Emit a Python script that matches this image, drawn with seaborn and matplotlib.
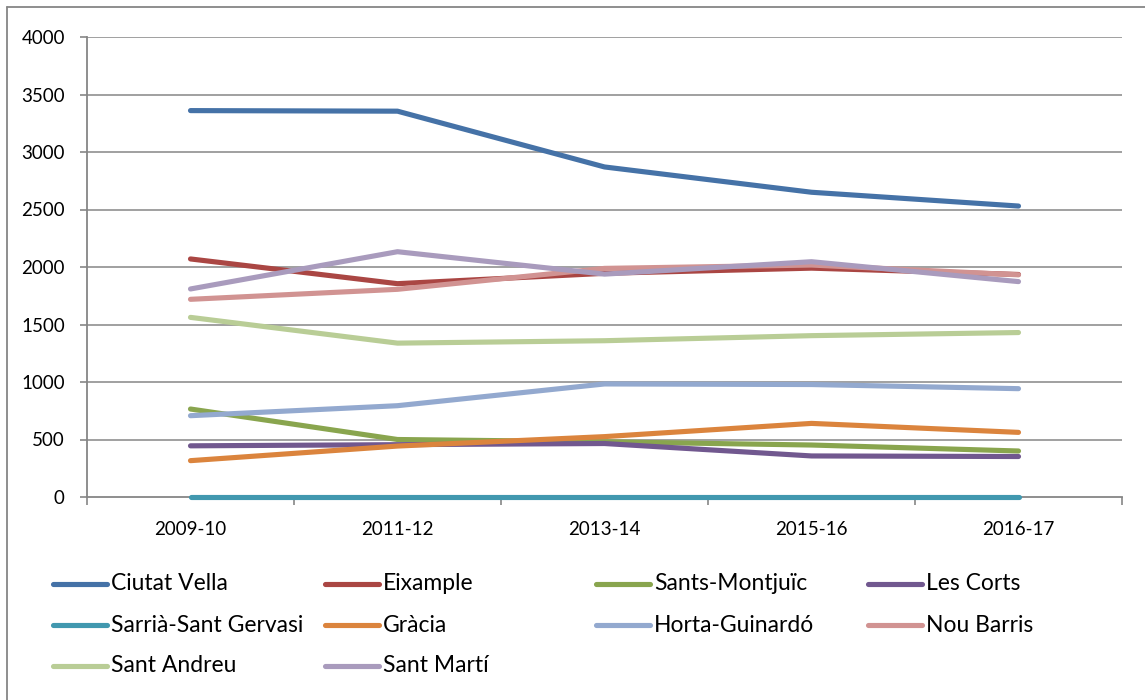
import numpy as np
import pandas as pd
import matplotlib
matplotlib.use('Agg')
import matplotlib.pyplot as plt
import seaborn as sns
from matplotlib.lines import Line2D

periods = ['2009-10', '2011-12', '2013-14', '2015-16', '2016-17']
districts = ['Ciutat Vella', 'Eixample', 'Sants-Montjuïc', 'Les Corts',
             'Sarrià-Sant Gervasi', 'Gràcia', 'Horta-Guinardó', 'Nou Barris',
             'Sant Andreu', 'Sant Martí']
ciutat_vella = [3360, 3355, 2870, 2650, 2530]
eixample = [2070, 1855, 1945, 1990, 1935]
sants_montjuic = [765, 500, 480, 452, 400]
les_corts = [445, 455, 465, 357, 352]
sarria_sant_gervasi = [0, 0, 0, 0, 0]
gracia = [316, 443, 525, 640, 562]
horta_guinardo = [707, 794, 983, 978, 942]
nou_barris = [1719, 1806, 1988, 2017, 1932]
sant_andreu = [1562, 1338, 1359, 1403, 1430]
sant_marti = [1809, 2133, 1938, 2046, 1873]
y_ticks = [0, 500, 1000, 1500, 2000, 2500, 3000, 3500, 4000]

series = [ciutat_vella, eixample, sants_montjuic, les_corts, sarria_sant_gervasi,
          gracia, horta_guinardo, nou_barris, sant_andreu, sant_marti]
colors = ['#4572A7', '#AA4643', '#89A54E', '#71588F', '#4198AF',
          '#DB843D', '#93A9CF', '#D19392', '#B9CD96', '#A99BBD']

rows = []
for name, vals in zip(districts, series):
    for i, (p, v) in enumerate(zip(periods, vals)):
        rows.append({'district': name, 'pos': i, 'period': p, 'value': v})
df = pd.DataFrame(rows)

sns.set_theme(style='white')
plt.rcParams['font.family'] = ['Lato', 'DejaVu Sans']

W, H = 1145, 700
fig = plt.figure(figsize=(W / 100, H / 100), dpi=100)
fig.patch.set_facecolor('white')

L, R, T, B = 87, 1122, 37, 497
ax = fig.add_axes([L / W, 1 - B / H, (R - L) / W, (B - T) / H])
gray = '#868686'

for y in y_ticks[1:]:
    ax.axhline(y, color=gray, lw=1.1, zorder=0)

sns.lineplot(data=df, x='pos', y='value', hue='district', hue_order=districts,
             palette=dict(zip(districts, colors)), linewidth=3.7, legend=False,
             ax=ax, sort=False, estimator=None, solid_capstyle='round', zorder=3,
             clip_on=False)

ax.set_xlim(-0.5, 4.5)
ax.set_ylim(0, 4000)
ax.set_xlabel('')
ax.set_ylabel('')
for s in ['top', 'right']:
    ax.spines[s].set_visible(False)
for s in ['left', 'bottom']:
    ax.spines[s].set_color(gray)
    ax.spines[s].set_linewidth(1.3)
    ax.spines[s].set_zorder(1)

ax.set_yticks(y_ticks)
ax.set_yticklabels([str(v) for v in y_ticks])
ax.tick_params(axis='y', which='major', direction='out', length=5, width=1.2,
               color=gray, pad=11, labelsize=13.5, labelcolor='black', left=True)
ax.set_xticks(range(len(periods)))
ax.set_xticklabels(periods)
ax.tick_params(axis='x', which='major', length=0, pad=17, labelsize=13.5,
               labelcolor='black')
ax.set_xticks(np.arange(-0.5, 4.51, 1.0), minor=True)
ax.tick_params(axis='x', which='minor', direction='out', length=6, width=1.2,
               color=gray, bottom=True)
ax.grid(False)

# outer chart border (left and top)
fig.add_artist(Line2D([7 / W, 7 / W], [0, 1 - 7 / H], transform=fig.transFigure,
                      color=gray, lw=1.3))
fig.add_artist(Line2D([7 / W, 1], [1 - 7 / H, 1 - 7 / H], transform=fig.transFigure,
                      color=gray, lw=1.3))

# legend (4 columns)
col_x = [53, 325, 596, 868]
row_y = [584, 625, 666]
for k, (name, c) in enumerate(zip(districts, colors)):
    r, ci = divmod(k, 4)
    x0 = col_x[ci]
    y = row_y[r]
    fig.add_artist(Line2D([x0 / W, (x0 + 54) / W], [1 - y / H, 1 - y / H],
                          transform=fig.transFigure, color=c, lw=3.7,
                          solid_capstyle='round'))
    fig.text((x0 + 58) / W, 1 - y / H, name, fontsize=16.5, va='center',
             ha='left', color='black')

fig.savefig('out.png', dpi=100, facecolor='white')
